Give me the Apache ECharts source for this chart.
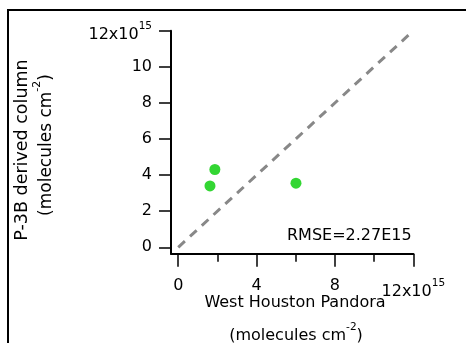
<!DOCTYPE html>
<html>
<head>
<meta charset="utf-8">
<script src="https://cdn.jsdelivr.net/npm/echarts@6/dist/echarts.min.js"></script>
<style>
  html, body { margin: 0; padding: 0; background: #fff; }
  #chart { width: 466px; height: 343px; }
</style>
</head>
<body>
<div id="chart"></div>
<script>
// NO2 columns (units of 1e15 molecules cm^-2)
const pandoraColumn = [1.62, 1.87, 6.01];   // West Houston Pandora
const p3bColumn     = [3.40, 4.31, 3.55];   // P-3B derived column
const oneToOneLine  = [0, 12];               // 1:1 reference line end points
const xMajorTicks   = [0, 4, 8, 12];
const xMinorTicks   = [2, 6, 10];
const yTicks        = [0, 2, 4, 6, 8, 10, 12];
const rmseText      = 'RMSE=2.27E15';

const FONT = 'DejaVu Sans';
const TICK_SIZE = 16;
const chart = echarts.init(document.getElementById('chart'), null, { renderer: 'canvas' });

function supRich(size, pad) {
  return {
    b: { fontFamily: FONT, fontSize: size, lineHeight: size + 3, padding: [pad, 0, 0, 0], verticalAlign: 'top', color: '#000' },
    s: { fontFamily: FONT, fontSize: 10.5, lineHeight: 12, verticalAlign: 'top', color: '#000' }
  };
}
function tickLabel(v) {
  if (v === 12) return '{b|12x10}{s|15}';
  return String(v);
}

const xRange = { min: -0.37, max: 12 };
const yRange = { min: -0.355, max: 12 };

const pointsData = pandoraColumn.map((x, i) => [x, p3bColumn[i]]);
const lineData = oneToOneLine.map(v => [v, v]);

chart.setOption({
  animation: false,
  backgroundColor: '#fff',
  grid: { left: 171, right: 52.7, top: 30.7, bottom: 89.3, containLabel: false },
  xAxis: [
    {
      type: 'value', min: xRange.min, max: xRange.max, position: 'bottom',
      axisLine: { show: true, onZero: false, lineStyle: { color: '#000', width: 2 } },
      axisTick: { show: true, inside: false, length: 13, customValues: xMajorTicks, lineStyle: { color: '#000', width: 1.5 } },
      axisLabel: {
        show: true, customValues: xMajorTicks, margin: 24, formatter: tickLabel,
        fontFamily: FONT, fontSize: TICK_SIZE, color: '#000', rich: supRich(TICK_SIZE, 6)
      },
      splitLine: { show: false }
    },
    {
      type: 'value', min: xRange.min, max: xRange.max, position: 'bottom',
      axisLine: { show: false, onZero: false },
      axisTick: { show: true, inside: false, length: 8, customValues: xMinorTicks, lineStyle: { color: '#000', width: 1.5 } },
      axisLabel: { show: false },
      splitLine: { show: false }
    }
  ],
  yAxis: {
    type: 'value', min: yRange.min, max: yRange.max,
    axisLine: { show: true, onZero: false, lineStyle: { color: '#000', width: 2 } },
    axisTick: { show: true, inside: false, length: 12, customValues: yTicks, lineStyle: { color: '#000', width: 1.5 } },
    axisLabel: {
      show: true, customValues: yTicks, margin: 19, formatter: tickLabel,
      fontFamily: FONT, fontSize: TICK_SIZE, color: '#000', rich: supRich(TICK_SIZE, 6)
    },
    splitLine: { show: false }
  },
  series: [
    {
      type: 'line', data: lineData, xAxisIndex: 0, symbol: 'none',
      lineStyle: { color: '#888', width: 3, type: [9, 7] }
    },
    {
      type: 'scatter', data: pointsData, xAxisIndex: 0, symbol: 'circle', symbolSize: 11,
      itemStyle: { color: '#00cc00' }
    }
  ],
  graphic: [
    // outer frame
    {
      type: 'polyline', silent: true,
      shape: { points: [[8, 343], [8, 10], [466, 10]] },
      style: { stroke: '#000', lineWidth: 2, fill: null }
    },
    {
      type: 'text', left: 287, top: 228,
      style: { text: rmseText, font: '16px "DejaVu Sans"', fill: '#000' }
    },
    // x axis title
    {
      type: 'text', x: 295, y: 303,
      style: { text: 'West Houston Pandora', font: '16px "DejaVu Sans"', fill: '#000', align: 'center', verticalAlign: 'middle' }
    },
    {
      type: 'text', x: 296, y: 331,
      style: {
        text: '{b|(molecules cm}{s|-2}{b|)}', align: 'center', verticalAlign: 'middle',
        rich: {
          b: { fontFamily: FONT, fontSize: 16, lineHeight: 19, padding: [6, 0, 0, 0], verticalAlign: 'top', fill: '#000' },
          s: { fontFamily: FONT, fontSize: 10.5, lineHeight: 12, verticalAlign: 'top', fill: '#000' }
        }
      }
    },
    // y axis title
    {
      type: 'text', x: 22, y: 150, rotation: Math.PI / 2,
      style: { text: 'P-3B derived column', font: '17.5px "DejaVu Sans"', fill: '#000', align: 'center', verticalAlign: 'middle' }
    },
    {
      type: 'text', x: 42, y: 145, rotation: Math.PI / 2,
      style: {
        text: '{b|(molecules cm}{s|-2}{b|)}', align: 'center', verticalAlign: 'middle',
        rich: {
          b: { fontFamily: FONT, fontSize: 17, lineHeight: 20, padding: [6, 0, 0, 0], verticalAlign: 'top', fill: '#000' },
          s: { fontFamily: FONT, fontSize: 11, lineHeight: 12, verticalAlign: 'top', fill: '#000' }
        }
      }
    }
  ]
});
</script>
</body>
</html>
